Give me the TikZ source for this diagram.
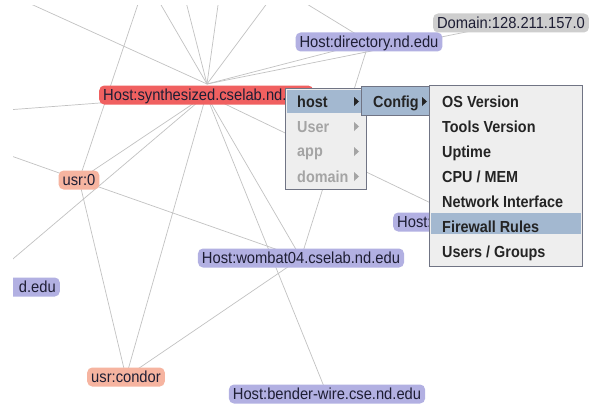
\documentclass[tikz,border=0pt]{standalone}
\usepackage{fontspec}
\setmainfont{Liberation Sans}
\newfontfamily\graphfont[FakeStretch=0.92]{Liberation Sans}
\newfontfamily\menufont[FakeStretch=0.9]{Liberation Sans}

\definecolor{edgegray}{RGB}{194,194,194}
\definecolor{hostfill}{RGB}{178,176,226}
\definecolor{selfill}{RGB}{240,96,96}
\definecolor{usrfill}{RGB}{246,180,160}
\definecolor{domfill}{RGB}{206,206,206}
\definecolor{labeltext}{RGB}{30,30,52}
\definecolor{menubg}{RGB}{238,238,238}
\definecolor{menuframe}{RGB}{112,116,132}
\definecolor{menuhl}{RGB}{163,184,208}
\definecolor{menutext}{RGB}{36,36,36}
\definecolor{menudis}{RGB}{164,164,164}

\pgfdeclarelayer{edgelayer}
\pgfsetlayers{edgelayer,main}

\tikzset{
  gnode/.style={rounded corners=5pt, inner xsep=4pt, inner ysep=0pt,
    minimum height=19pt, text height=11pt, text depth=0pt,
    text=labeltext, font={\graphfont\fontsize{16}{16}\selectfont}},
  hostn/.style={gnode, fill=hostfill},
  seln/.style={gnode, fill=selfill},
  usrn/.style={gnode, fill=usrfill},
  domn/.style={gnode, fill=domfill},
  link/.style={draw=edgegray, line width=0.7pt},
  menupanel/.style={draw=menuframe, line width=0.8pt, fill=menubg},
  menusel/.style={fill=menuhl},
  mitem/.style={anchor=base west, inner sep=0pt, text=menutext,
    font={\menufont\bfseries\fontsize{16}{16}\selectfont}},
  mdis/.style={mitem, text=menudis},
  subarrow/.style={fill=menutext},
  subarrowdis/.style={fill=menudis}
}

\begin{document}
\begin{tikzpicture}[x=1pt, y=-1pt]
  \useasboundingbox (0,0) rectangle (591,404);

  % graph nodes
  \begin{scope}
    \clip (13,6) rectangle (591,404);
    \node[domn]  (dom)  at (511,23)  {Domain:128.211.157.0};
    \node[hostn] (dir)  at (369,42)  {Host:directory.nd.edu};
    \node[seln, anchor=west, text width=206pt, align=left] (syn) at (99,95)
      {Host:synthesized.cselab.nd.};
    \node[usrn]  (u0)   at (79,180)  {usr:0};
    \node[hostn, anchor=west, text width=146pt, align=left] (hx) at (393,222) {Host:};
    \node[hostn] (womb) at (301,258) {Host:wombat04.cselab.nd.edu};
    \node[hostn, anchor=east, text width=152pt, align=right] (dedu) at (60,287) {d.edu};
    \node[usrn]  (cond) at (126,377) {usr:condor};
    \node[hostn] (bend) at (327,394) {Host:bender-wire.cse.nd.edu};
  \end{scope}

  % junction above the selected host and ends leaving the view
  \coordinate (hub) at (207,84);
  \coordinate (nw) at (0,-10);
  \coordinate (t1) at (157,-2);
  \coordinate (t2) at (185,-2);
  \coordinate (t3) at (219,-2);
  \coordinate (t4) at (271,-2);
  \coordinate (t5) at (140,-2);
  \coordinate (t6) at (297,-2);
  \coordinate (w1) at (0,110.5);
  \coordinate (w2) at (0,152);

  % white canvas and connectors, beneath the nodes
  \begin{pgfonlayer}{edgelayer}
    \fill[white] (0,0) rectangle (591,404);
    \begin{scope}
      \clip (13,6) rectangle (591,404);
      \draw[link] (hub) -- (nw);
      \draw[link] (hub) -- (t1);
      \draw[link] (hub) -- (t2);
      \draw[link] (hub) -- (t3);
      \draw[link] (hub) -- (t4);
      \draw[link] (hub) -- (dir.center);
      \draw[link] (hub) -- (dom.center);
      \draw[link] (syn.center) -- (w1);
      \draw[link] (syn.center) -- (dedu.center);
      \draw[link] (syn.center) -- (hx.center);
      \draw[link] (syn.center) -- (u0.center);
      \draw[link] (syn.center) -- (womb.center);
      \draw[link] (syn.center) -- (bend.center);
      \draw[link] (syn.center) -- (cond.center);
      \draw[link] (t5) -- (u0.center);
      \draw[link] (w2) -- (u0.center);
      \draw[link] (u0.center) -- (womb.center);
      \draw[link] (u0.center) -- (cond.center);
      \draw[link] (womb.center) -- (cond.center);
      \draw[link] (dir.center) -- (womb.center);
      \draw[link] (t6) -- (dir.center);
    \end{scope}
  \end{pgfonlayer}

  % first popup menu
  \draw[menupanel] (285,88) rectangle (366,189);
  \fill[menusel] (286.5,90) rectangle (364.5,113);
  \node[mitem] (mhost) at (297,107) {host};
  \node[mdis]  (muser) at (297,132) {User};
  \node[mdis]  (mapp)  at (297,156) {app};
  \node[mdis]  (mdom)  at (297,182) {domain};
  \fill[subarrow]    (354,97)  -- (359,101.5) -- (354,106) -- cycle;
  \fill[subarrowdis] (354,122) -- (359,126.5) -- (354,131) -- cycle;
  \fill[subarrowdis] (354,147) -- (359,151.5) -- (354,156) -- cycle;
  \fill[subarrowdis] (354,172) -- (359,176.5) -- (354,181) -- cycle;

  % second popup menu
  \draw[menupanel, fill=menuhl] (361,86) rectangle (430,115);
  \node[mitem] (mconf) at (373,107) {Config};
  \fill[subarrow] (422,97) -- (427,101.5) -- (422,106) -- cycle;

  % third popup menu
  \draw[menupanel] (429,85) rectangle (582,266);
  \fill[menusel] (430.5,213) rectangle (580.5,234);
  \node[mitem] (mos)   at (442,107) {OS Version};
  \node[mitem] (mtool) at (442,132) {Tools Version};
  \node[mitem] (mup)   at (442,157) {Uptime};
  \node[mitem] (mcpu)  at (442,182) {CPU / MEM};
  \node[mitem] (mnet)  at (442,207) {Network Interface};
  \node[mitem] (mfw)   at (442,232) {Firewall Rules};
  \node[mitem] (musr)  at (442,257) {Users / Groups};
\end{tikzpicture}
\end{document}
